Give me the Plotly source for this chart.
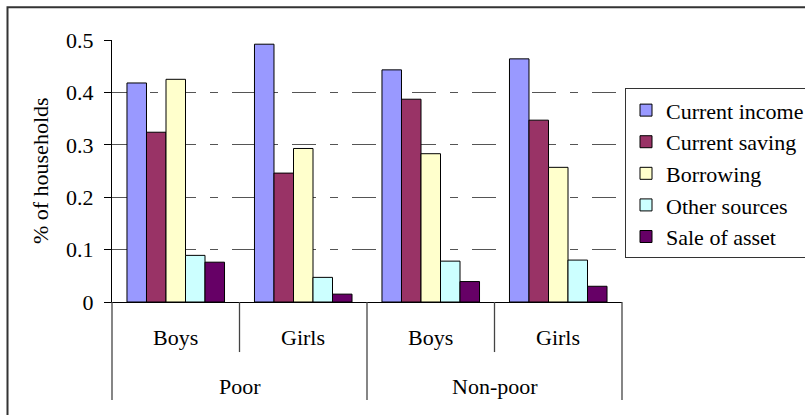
import plotly.graph_objects as go

# Household groups (outer) and child sex (inner)
groups = ["Poor", "Poor", "Non-poor", "Non-poor"]
sexes = ["Boys", "Girls", "Boys", "Girls"]
outer_labels = ["Poor", "Non-poor"]

# Share of households by source of funds
current_income = [0.418, 0.492, 0.443, 0.464]
current_saving = [0.324, 0.246, 0.387, 0.347]
borrowing = [0.425, 0.293, 0.283, 0.257]
other_sources = [0.089, 0.047, 0.078, 0.080]
sale_of_asset = [0.076, 0.015, 0.039, 0.030]

series_names = ["Current income", "Current saving", "Borrowing",
                "Other sources", "Sale of asset"]
series_values = [current_income, current_saving, borrowing,
                 other_sources, sale_of_asset]
series_colors = ["#9999FF", "#993366", "#FFFFCC", "#CCFFFF", "#660066"]

y_ticks = [0, 0.1, 0.2, 0.3, 0.4, 0.5]
y_tick_text = ["0", "0.1", "0.2", "0.3", "0.4", "0.5"]

FONT = "Liberation Serif"
FS = 22

cats = [f"{g} {s}" for g, s in zip(groups, sexes)]

fig = go.Figure()
for name, vals, col in zip(series_names, series_values, series_colors):
    fig.add_trace(go.Bar(
        x=cats, y=vals, name=name,
        marker=dict(color=col, line=dict(color="#000000", width=1)),
    ))

n = len(cats)
shapes = []
# dividers under the axis: long ones bound the outer groups, short ones split sexes
for i in range(n + 1):
    frac = i / n
    outer = (i % 2 == 0)
    shapes.append(dict(
        type="line", xref="paper", yref="paper",
        x0=frac, x1=frac, y0=0, y1=-0.374 if outer else -0.191,
        line=dict(color="#444444", width=1.3),
    ))
# chart frame
shapes.append(dict(
    type="rect", xref="paper", yref="paper",
    x0=-0.2049, x1=1.6, y0=-0.7, y1=1.1248,
    line=dict(color="#333333", width=2), layer="below",
))

annotations = []
for c, s in zip(cats, sexes):
    annotations.append(dict(
        x=c, xref="x", y=-0.137, yref="paper", text=s, showarrow=False,
        xanchor="center", yanchor="middle", font=dict(family=FONT, size=FS, color="#000"),
    ))
for k, g in enumerate(outer_labels):
    annotations.append(dict(
        x=(2 * k + 1) / 4, xref="paper", y=-0.323, yref="paper", text=g,
        showarrow=False, xanchor="center", yanchor="middle",
        font=dict(family=FONT, size=FS, color="#000"),
    ))
annotations.append(dict(
    x=-0.141, xref="paper", y=0.5, yref="paper", text="% of households",
    textangle=-90, showarrow=False, xanchor="center", yanchor="middle",
    font=dict(family=FONT, size=FS, color="#000"),
))

fig.update_layout(
    width=805, height=415,
    margin=dict(l=112, r=183, t=40, b=113, autoexpand=False),
    paper_bgcolor="white", plot_bgcolor="white",
    barmode="group", bargap=0.235, bargroupgap=0,
    font=dict(family=FONT, size=FS, color="#000"),
    showlegend=True,
    legend=dict(
        x=1.0059, y=0.8156, xanchor="left", yanchor="top",
        bgcolor="white", bordercolor="#333333", borderwidth=1,
        font=dict(family=FONT, size=FS, color="#000"),
        traceorder="normal",
    ),
    xaxis=dict(
        type="category", showticklabels=False, ticks="",
        showline=True, linecolor="#000000", linewidth=1,
        showgrid=False, zeroline=False, fixedrange=True,
    ),
    yaxis=dict(
        range=[0, 0.5], tickvals=y_ticks, ticktext=y_tick_text,
        ticks="outside", ticklen=7, tickcolor="#000000", tickwidth=1,
        ticklabelstandoff=6,
        showline=True, linecolor="#000000", linewidth=1,
        showgrid=True, gridcolor="#555555", gridwidth=1,
        griddash="24px,14px,8px,14px",
        zeroline=False, fixedrange=True,
        tickfont=dict(family=FONT, size=FS, color="#000"),
    ),
    shapes=shapes,
    annotations=annotations,
)

fig.write_html("out.html")
